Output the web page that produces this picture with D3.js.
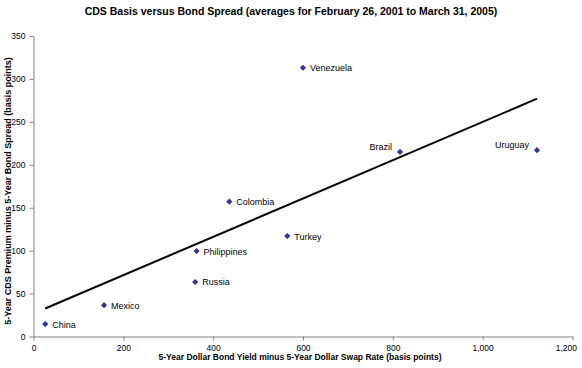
<!doctype html>
<html>
<head>
<script src="https://d3js.org/d3.v7.min.js"></script>
<style>
  body { margin: 0; background: #fff; }
  text { font-family: "Liberation Sans", Arial, sans-serif; }
</style>
</head>
<body>
<svg width="582" height="368" id="chart"></svg>
<script>
// data
var countries = ["China", "Mexico", "Russia", "Philippines", "Colombia", "Turkey", "Venezuela", "Brazil", "Uruguay"];
var bondSpread = [26, 157, 360, 363, 436, 565, 600, 816, 1121];
var cdsBasis = [14.5, 36.5, 63.5, 99.5, 157, 117, 313, 215, 217];
var xTicks = [0, 200, 400, 600, 800, 1000, 1200];
var yTicks = [0, 50, 100, 150, 200, 250, 300, 350];

var svg = d3.select("svg"),
    mLeft = 33.5, mRight = 572.5, mTop = 36, mBottom = 336.5;

var x = d3.scaleLinear().domain([0, 1200]).range([mLeft, mRight]),
    y = d3.scaleLinear().domain([0, 350]).range([mBottom, mTop]);

// title
svg.append("text")
   .attr("x", 291).attr("y", 15)
   .attr("text-anchor", "middle")
   .attr("font-size", "10.5px").attr("font-weight", "bold")
   .text("CDS Basis versus Bond Spread (averages for February 26, 2001 to March 31, 2005)");

// axes
var xAxis = svg.append("g")
   .attr("transform", "translate(0," + mBottom + ")")
   .call(d3.axisBottom(x).tickValues(xTicks).tickSize(4).tickSizeOuter(0).tickFormat(d3.format(",")));
var yAxis = svg.append("g")
   .attr("transform", "translate(" + mLeft + ",0)")
   .call(d3.axisLeft(y).tickValues(yTicks).tickSize(4).tickSizeOuter(0));
[xAxis, yAxis].forEach(function(a) {
  a.select(".domain").attr("stroke", "#808080");
  a.selectAll(".tick line").attr("stroke", "#808080");
  a.selectAll(".tick text").attr("font-size", "8.5px").attr("fill", "#000")
   .attr("font-family", "Liberation Sans, Arial, sans-serif");
});
xAxis.selectAll(".tick text").attr("dy", "0.9em");
xAxis.selectAll(".tick text").filter(function(d) { return d === 1200; })
   .attr("text-anchor", "end").attr("dx", "4px");
yAxis.selectAll(".tick text").attr("dx", "-1px");

// axis titles
svg.append("text")
   .attr("x", 300).attr("y", 360)
   .attr("text-anchor", "middle")
   .attr("font-size", "8.5px").attr("font-weight", "bold")
   .text("5-Year Dollar Bond Yield minus 5-Year Dollar Swap Rate (basis points)");
svg.append("text")
   .attr("transform", "translate(10.5," + 191 + ") rotate(-90)")
   .attr("text-anchor", "middle")
   .attr("font-size", "9px").attr("font-weight", "bold")
   .text("5-Year CDS Premium minus 5-Year Bond Spread (basis points)");

// trend line (least squares fit of the points)
var mx = d3.mean(bondSpread), my = d3.mean(cdsBasis);
var sxy = d3.sum(bondSpread, function(v, i) { return (v - mx) * (cdsBasis[i] - my); }),
    sxx = d3.sum(bondSpread, function(v) { return (v - mx) * (v - mx); });
var slope = sxy / sxx, icpt = my - slope * mx;
var ends = d3.extent(bondSpread);
svg.append("line")
   .attr("x1", x(ends[0])).attr("y1", y(icpt + slope * ends[0]))
   .attr("x2", x(ends[1])).attr("y2", y(icpt + slope * ends[1]))
   .attr("stroke", "#000").attr("stroke-width", 2);

// points
var pts = countries.map(function(c, i) { return {name: c, x: bondSpread[i], y: cdsBasis[i]}; });
var leftLabels = ["Brazil", "Uruguay"];
var g = svg.append("g");
g.selectAll("path")
 .data(pts)
 .enter().append("path")
 .attr("d", d3.symbol(d3.symbolSquare, 19))
 .attr("transform", function(d) { return "translate(" + x(d.x) + "," + y(d.y) + ") rotate(45)"; })
 .attr("fill", "#333399");
g.selectAll("text")
 .data(pts)
 .enter().append("text")
 .attr("font-size", "9px")
 .attr("x", function(d) { return leftLabels.indexOf(d.name) >= 0 ? x(d.x) - 8 : x(d.x) + 7; })
 .attr("y", function(d) { return leftLabels.indexOf(d.name) >= 0 ? y(d.y) - 2 : y(d.y) + 3.5; })
 .attr("text-anchor", function(d) { return leftLabels.indexOf(d.name) >= 0 ? "end" : "start"; })
 .text(function(d) { return d.name; });
</script>
</body>
</html>
